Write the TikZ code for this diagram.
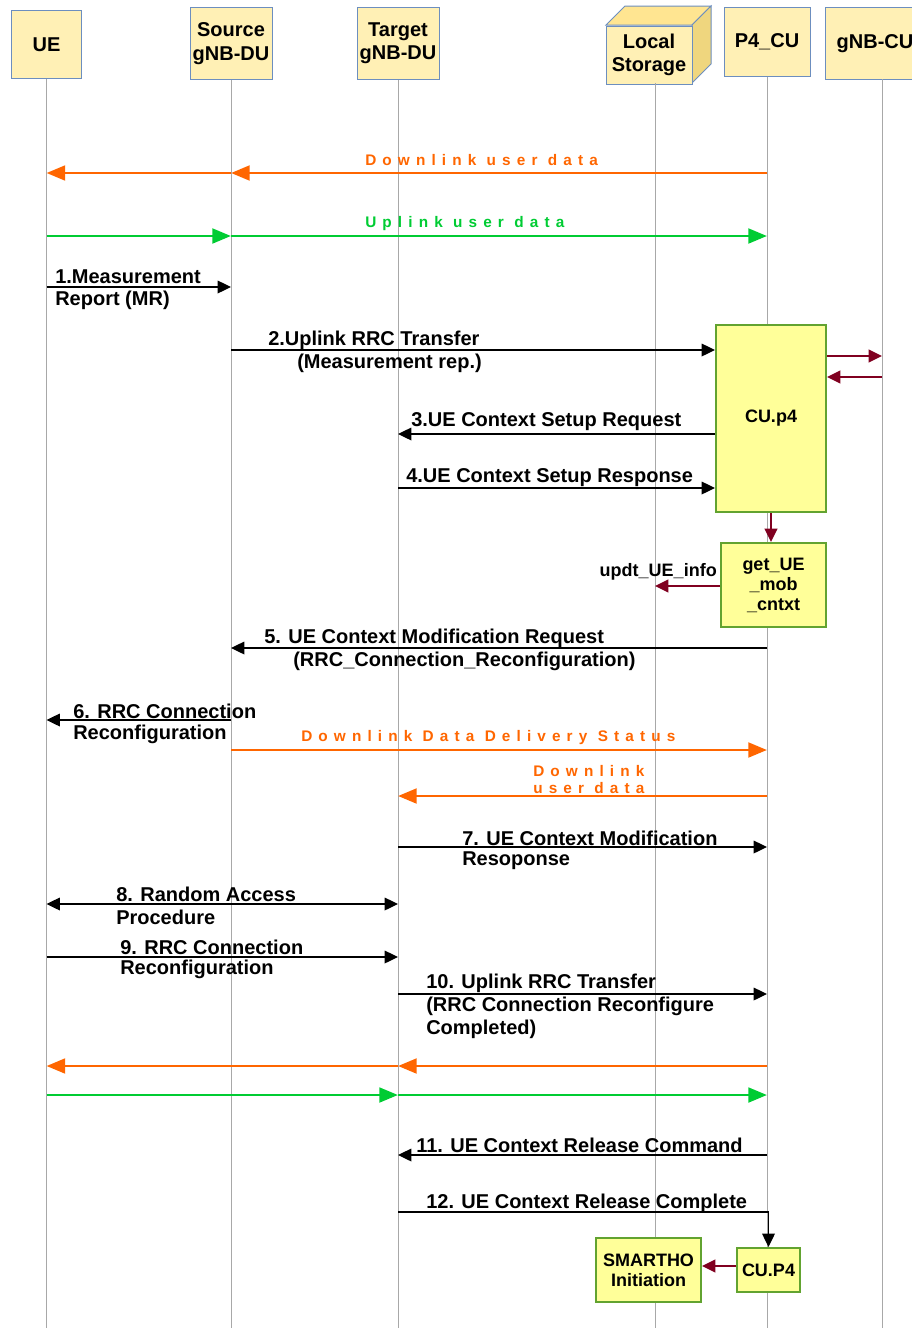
\documentclass[tikz,border=0pt]{standalone}
\usepackage{fontspec}
\setmainfont{Liberation Sans}
\usepackage{tikz}
\usetikzlibrary{arrows.meta}
\definecolor{hdrfill}{HTML}{FFF0B5}
\definecolor{hdrline}{HTML}{6C8EBF}
\definecolor{cubetop}{HTML}{FFE591}
\definecolor{cubeside}{HTML}{EFD67E}
\definecolor{boxfill}{HTML}{FFFF99}
\definecolor{boxline}{HTML}{62A330}
\definecolor{lifegray}{HTML}{A8A8A8}
\definecolor{dlorange}{HTML}{FF6600}
\definecolor{ulgreen}{HTML}{00CC33}
\definecolor{wine}{HTML}{800020}
\newcommand{\spaced}{\addfontfeatures{LetterSpace=40}}

\begin{document}
\begin{tikzpicture}[x=0.75pt,y=-0.75pt,>={Triangle[length=10pt,width=9.5pt]},
    font=\fontsize{15}{17.5}\selectfont\bfseries,
    actor/.style={draw=hdrline,fill=hdrfill,line width=0.75pt,inner sep=0pt,align=center},
    proc/.style={draw=boxline,fill=boxfill,line width=1.5pt,inner sep=0pt,align=center,
      font=\fontsize{13.5}{15}\selectfont\bfseries},
    life/.style={draw=lifegray,line width=0.75pt},
    msg/.style={line width=0.95pt,->},
    dl/.style={draw=dlorange,line width=2.2pt,-{Triangle[length=14pt,width=11pt]}},
    ul/.style={dl,draw=ulgreen},
    ctl/.style={draw=wine,line width=1.6pt,->},
    lbl/.style={anchor=west,inner sep=0pt},
    spc/.style={lbl,font=\fontsize{11.5}{13}\selectfont\bfseries\spaced}]
\useasboundingbox (0,0) rectangle (912,1328);
\clip (0,0) rectangle (912,1328);

% lifeline heads
\node[actor,minimum width=53pt,minimum height=51pt] (ue) at (46.5,44.5) {UE};
\node[actor,minimum width=61.5pt,minimum height=54pt] (src) at (231,43.5) {Source\\gNB-DU};
\node[actor,minimum width=61.5pt,minimum height=54pt] (tgt) at (398,43.5) {Target\\gNB-DU};
\filldraw[fill=cubetop,draw=hdrline,line width=0.75pt] (606,25) -- (625,6) -- (711,6) -- (692,25) -- cycle;
\filldraw[fill=cubeside,draw=hdrline,line width=0.75pt] (692,25) -- (711,6) -- (711,64) -- (692,83) -- cycle;
\node[actor,minimum width=64.5pt,minimum height=43.5pt] (ls) at (649,55) {Local\\Storage};
\node[actor,minimum width=64.5pt,minimum height=51.75pt] (p4) at (767,42) {P4\_CU};
\node[actor,minimum width=75pt,minimum height=54pt] (cu) at (875,43.5) {gNB-CU};
\coordinate (lsl) at (655,83);
\coordinate (cul) at (882,79);

% lifelines
\foreach \n in {ue,src,tgt,p4}
  \draw[life] (\n.south) -- (\n.south |- 0,1328);
\draw[life] (lsl) -- (lsl |- 0,1328);
\draw[life] (cul) -- (cul |- 0,1328);

% CU.p4 blocks
\node[proc,minimum width=82.5pt,minimum height=140.25pt] (cup4) at (771,418.5) {CU.p4};
\node[proc,minimum width=78.75pt,minimum height=63pt] (getue) at (773.5,585) {get\_UE\\\_mob\\\_cntxt};
\node[proc,minimum width=47.25pt,minimum height=33pt] (cuP4) at (768.5,1270) {CU.P4};
\node[proc,minimum width=78.75pt,minimum height=48pt] (smartho) at (648.5,1270) {SMARTHO\\Initiation};

% user plane before handover
\draw[dl] (p4 |- 0,173) -- (src |- 0,173);
\draw[dl] (src |- 0,173) -- (ue |- 0,173);
\node[spc,dlorange] (dl1) at (365,160) {Downlink user data};
\draw[ul] (ue |- 0,236) -- (src |- 0,236);
\draw[ul] (src |- 0,236) -- (p4 |- 0,236);
\node[spc,ulgreen] (ul1) at (365,224) {Uplink user data};

% 1 - 4
\draw[msg] (ue |- 0,287) -- (src |- 0,287);
\node[lbl] (m1a) at (55,277) {1.Measurement};
\node[lbl] (m1b) at (55,300) {Report (MR)};
\draw[msg] (src |- 0,350) -- (cup4.west |- 0,350);
\node[lbl] (m2a) at (268,340) {2.Uplink RRC Transfer};
\node[lbl] (m2b) at (297,363) {(Measurement rep.)};
\draw[msg] (cup4.west |- 0,434) -- (tgt |- 0,434);
\node[lbl] (m3) at (411,422) {3.UE Context Setup Request};
\draw[msg] (tgt |- 0,488) -- (cup4.west |- 0,488);
\node[lbl] (m4) at (406,478) {4.UE Context Setup Response};

% CU.p4 internals
\draw[ctl] (cup4.east |- 0,356) -- (cul |- 0,356);
\draw[ctl] (cul |- 0,377) -- (cup4.east |- 0,377);
\draw[ctl] (cup4.south) -- (cup4.south |- getue.north);
\draw[ctl] (getue.west |- 0,586) -- (lsl |- 0,586);
\node[lbl,anchor=east,font=\fontsize{13.5}{15}\selectfont\bfseries] (upd) at (717,572) {updt\_UE\_info};

% 5 - 7
\draw[msg] (p4 |- 0,648) -- (src |- 0,648);
\node[lbl] (m5a) at (264,638) {5. UE Context Modification Request};
\node[lbl] (m5b) at (293,661) {(RRC\_Connection\_Reconfiguration)};
\draw[msg] (src |- 0,720) -- (ue |- 0,720);
\node[lbl] (m6a) at (73,711) {6. RRC Connection};
\node[lbl] (m6b) at (73,734) {Reconfiguration};
\draw[dl] (src |- 0,750) -- (p4 |- 0,750);
\node[spc,dlorange] (ddds) at (301,738) {Downlink Data Delivery Status};
\draw[dl] (p4 |- 0,796) -- (tgt |- 0,796);
\node[spc,dlorange] (dl2a) at (533,771) {Downlink};
\node[spc,dlorange] (dl2b) at (533,788) {user data};
\draw[msg] (tgt |- 0,847) -- (p4 |- 0,847);
\node[lbl] (m7a) at (462,838) {7. UE Context Modification};
\node[lbl] (m7b) at (462,861) {Resoponse};

% 8 - 10
\draw[msg,<->] (ue |- 0,904) -- (tgt |- 0,904);
\node[lbl] (m8a) at (116,894) {8. Random Access};
\node[lbl] (m8b) at (116,917) {Procedure};
\draw[msg] (ue |- 0,957) -- (tgt |- 0,957);
\node[lbl] (m9a) at (120,947) {9. RRC Connection};
\node[lbl] (m9b) at (120,969) {Reconfiguration};
\draw[msg] (tgt |- 0,994) -- (p4 |- 0,994);
\node[lbl] (m10a) at (426,983) {10. Uplink RRC Transfer};
\node[lbl,align=left] (m10b) at (426,1017.5) {(RRC Connection Reconfigure\\Completed)};

% user plane after handover
\draw[dl] (p4 |- 0,1066) -- (tgt |- 0,1066);
\draw[dl] (tgt |- 0,1066) -- (ue |- 0,1066);
\draw[ul] (ue |- 0,1095) -- (tgt |- 0,1095);
\draw[ul] (tgt |- 0,1095) -- (p4 |- 0,1095);

% 11 - 12
\draw[msg] (p4 |- 0,1155) -- (tgt |- 0,1155);
\node[lbl] (m11) at (416,1145) {11. UE Context Release Command};
\draw[msg] (tgt |- 0,1212) -| (cuP4.north);
\node[lbl] (m12) at (426,1203) {12. UE Context Release Complete};
\draw[ctl] (cuP4.west |- 0,1266) -- (smartho.east |- 0,1266);
\end{tikzpicture}
\end{document}
